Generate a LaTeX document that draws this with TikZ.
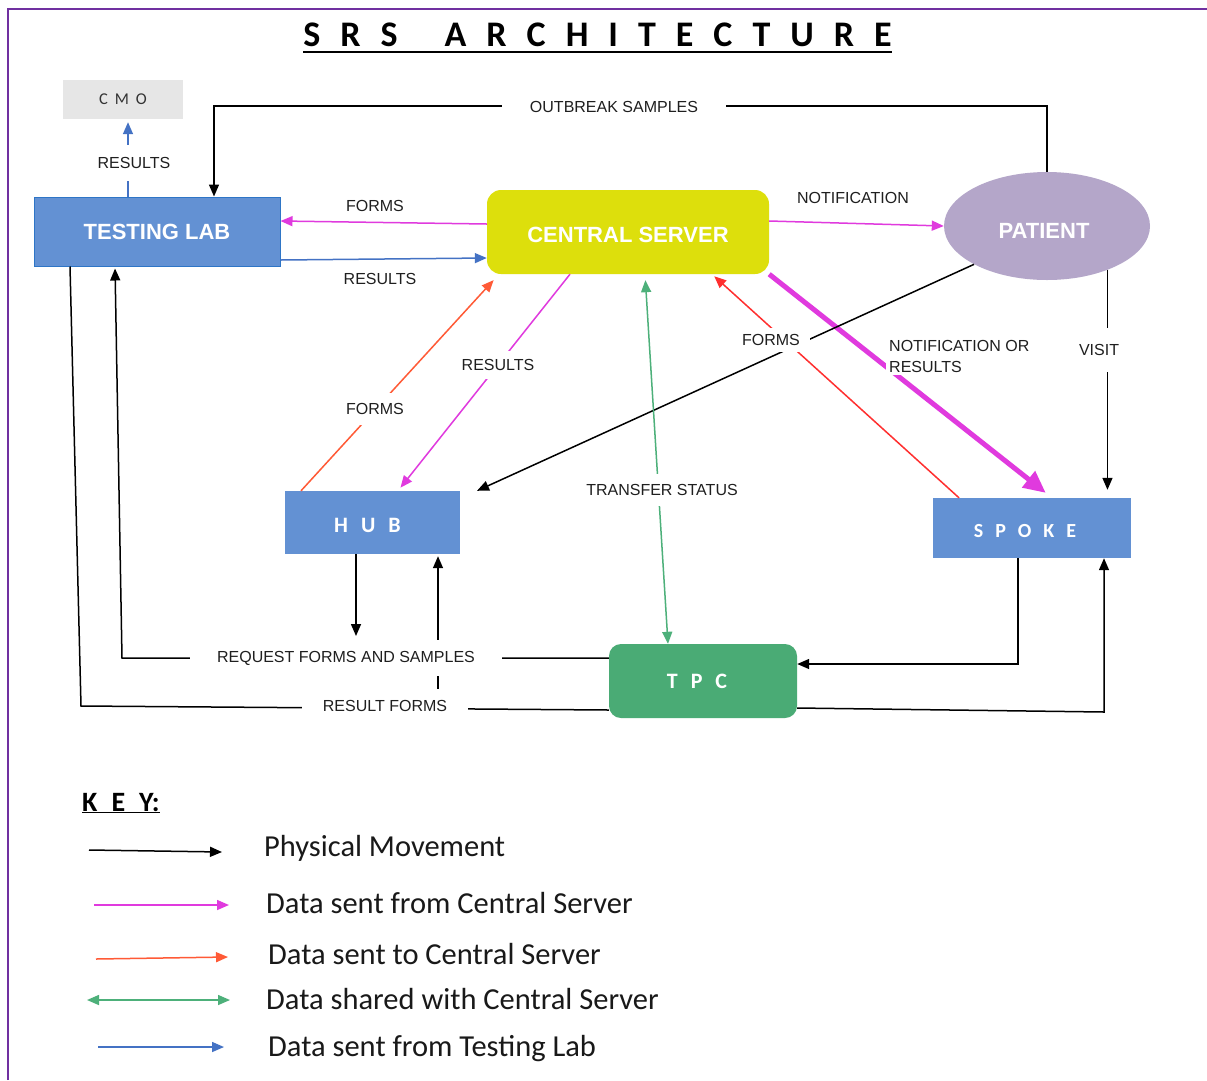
\documentclass[tikz,border=0pt]{standalone}
\usepackage{fontspec}
\setmainfont{Carlito}
\newfontfamily\lblfont{Liberation Sans}
\usetikzlibrary{arrows.meta,shapes.geometric}
\definecolor{purp}{HTML}{7030A0}
\definecolor{magc}{HTML}{E03ADE}
\definecolor{orgc}{HTML}{FF5A36}
\definecolor{redc}{HTML}{FF2F2F}
\definecolor{grnc}{HTML}{4DB07A}
\definecolor{bluc}{HTML}{4472C4}
\definecolor{boxblue}{HTML}{6391D3}
\definecolor{labborder}{HTML}{2E75C6}
\definecolor{csyellow}{HTML}{DDDF0C}
\definecolor{patpurple}{HTML}{B4A6C9}
\definecolor{tpcgreen}{HTML}{4AAB75}
\definecolor{cmogray}{HTML}{E6E6E6}
\tikzset{
  conn/.style={line width=1.5pt},
  tipA/.style={-{Triangle[length=12pt,width=10pt]}},
  blk/.style={conn, draw=black, tipA},
  plainln/.style={conn, draw=black},
  magA/.style={conn, draw=magc, tipA},
  magT/.style={line width=5pt, draw=magc, -{Triangle[length=22pt,width=20pt]}},
  orgA/.style={conn, draw=orgc, tipA},
  redA/.style={conn, draw=redc, tipA},
  bluA/.style={conn, draw=bluc, tipA},
  grnA/.style={conn, draw=grnc, {Triangle[length=12pt,width=10pt]}-{Triangle[length=12pt,width=10pt]}},
  lbl/.style={font=\lblfont\fontsize{16}{21}\selectfont, text=black!88, fill=white, inner sep=2pt},
  boxn/.style={rectangle, inner sep=0pt},
  boldlbl/.style={font=\lblfont\bfseries\fontsize{22}{24}\selectfont, text=white},
  spaced/.style={font=\bfseries\fontsize{#1}{24}\selectfont, text=white},
  keytxt/.style={font=\fontsize{30.5}{34}\selectfont, text=black!90, inner sep=0pt, anchor=base west}
}
\begin{document}
\begin{tikzpicture}[x=1pt,y=-1pt]
\useasboundingbox (0,0) rectangle (1207,1080);
\fill[white] (0,0) rectangle (1207,1080);
\draw[purp, line width=1.5pt] (8,1080) -- (8,9) -- (1207,9);

% title
\node[inner sep=0pt, anchor=base, font=\bfseries\fontsize{36}{40}\selectfont] (title) at (597.5,46)
 {S\kern20pt R\kern20pt S\kern47pt A\kern20pt R\kern20pt C\kern20pt H\kern20pt I\kern20pt T\kern20pt E\kern20pt C\kern20pt T\kern20pt U\kern20pt R\kern20pt E};
\draw[line width=2.2pt] ([yshift=-6pt]title.base west) -- ([yshift=-6pt]title.base east);

% nodes
\node[boxn, fill=cmogray, minimum width=120pt, minimum height=39pt, text=black!80, font=\fontsize{16.5}{18}\selectfont] (cmo) at (123,99.5) {C\kern7pt M\kern7pt O};
\node[boxn, fill=boxblue, draw=labborder, line width=1pt, minimum width=246pt, minimum height=69pt, boldlbl] (lab) at (157,231.5) {TESTING LAB};
\node[boxn, fill=csyellow, rounded corners=14pt, minimum width=282pt, minimum height=84pt, boldlbl] (cs) at (628,232) {\raisebox{-3pt}[\height][\depth]{CENTRAL SERVER}};
\node[ellipse, fill=patpurple, minimum width=206pt, minimum height=108pt, inner sep=0pt, boldlbl] (pat) at (1047,226) {\hspace*{-6pt}\raisebox{-5pt}[\height][\depth]{PATIENT}};
\node[boxn, fill=boxblue, minimum width=175pt, minimum height=63pt, spaced=22] (hub) at (372.5,522.5) {\hspace*{-10pt}\raisebox{-3pt}[\height][\depth]{H\kern13pt U\kern13pt B}};
\node[boxn, fill=boxblue, minimum width=198pt, minimum height=60pt, spaced=20] (spoke) at (1032,528) {\hspace*{-14pt}\raisebox{-3pt}[\height][\depth]{S\kern12pt P\kern12pt O\kern12pt K\kern12pt E}};
\node[boxn, fill=tpcgreen, rounded corners=12pt, minimum width=188pt, minimum height=74pt, spaced=22] (tpc) at (703,681) {\hspace*{-12pt}T\kern13pt P\kern13pt C};

% connectors
\coordinate (obL) at (214,106);
\draw[blk] (pat.north) |- (obL) -- (obL |- lab.north);
\draw[magA] (cs.west |- 0,224) -- (lab.east |- 0,221);
\draw[bluA] (lab.east |- 0,260) -- (cs.west |- 0,258);
\draw[magA] (cs.east |- 0,221) -- (pat.west);
\draw[magT, shorten >=8pt] (cs.south east) -- (spoke.north -| 1052,0);
\draw[redA, shorten >=3pt] (spoke.north -| 959,0) -- (cs.south -| 712,0);
\draw[blk] (pat.south west) -- (hub.north east -| 477,0);
\draw[blk, shorten >=8pt] (pat.-36) -- (pat.-36 |- spoke.north);
\draw[orgA, shorten >=8pt] (hub.north -| 301,0) -- (cs.south -| 499,0);
\draw[magA, shorten >=4pt] (cs.south -| 570,0) -- (hub.north -| 398,0);
\draw[grnA, shorten <=6pt] (cs.south -| 645,0) -- (tpc.north -| 668,0);
\coordinate (hd) at (356,636);
\draw[blk] (hub.south -| hd) -- (hd);
\coordinate (hu) at (438,707);
\draw[blk, shorten >=2pt] (hu) -- (hu |- hub.south);
\coordinate (rq) at (122,658);
\draw[blk, shorten >=2pt] (tpc.west |- rq) -- (rq) -- (lab.south -| 115,0);
\coordinate (rfL) at (81,706);
\draw[plainln] (tpc.west |- 0,710) -- (rfL) -- (lab.south -| 70,0);
\coordinate (st) at (1018,664);
\draw[blk] (spoke.south -| st) -- (st) -- (st -| tpc.east);
\coordinate (ts) at (1104,712);
\draw[blk] (tpc.east |- 0,708) -- (ts) -- (ts |- spoke.south);
\draw[bluA, shorten >=3pt] (lab.north -| 128,0) -- (cmo.south -| 128,0);

% labels
\node[lbl] (l1) at (375,206) {FORMS};
\node[lbl] (l2) at (380,279) {RESULTS};
\node[lbl] (l3) at (853,198) {NOTIFICATION};
\node[lbl, inner xsep=28pt] (l4) at (614,107) {OUTBREAK SAMPLES};
\node[lbl, align=left, anchor=west, inner sep=3pt] (l5) at (886,356) {NOTIFICATION OR\\RESULTS};
\node[lbl, inner xsep=10pt, inner ysep=6pt] (l6) at (771,340) {FORMS};
\node[lbl, inner ysep=16pt] (l7) at (1099,350) {VISIT};
\node[lbl, inner ysep=10pt] (l8) at (375,409) {FORMS};
\node[lbl, inner ysep=8pt] (l9) at (498,365) {RESULTS};
\node[lbl, inner ysep=10pt] (l10) at (662,490) {TRANSFER STATUS};
\node[lbl, inner xsep=27pt, inner ysep=11pt] (l11) at (346,658) {REQUEST FORMS AND SAMPLES};
\node[lbl, inner xsep=21pt, inner ysep=11pt] (l12) at (385,706) {RESULT FORMS};
\node[lbl, inner ysep=12pt] (l13) at (134,163) {RESULTS};

% key
\node[inner sep=0pt, anchor=base west, font=\bfseries\fontsize{28}{30}\selectfont] (key) at (82,811) {\underline{K\kern14pt E\kern14pt Y:}};
\node[keytxt] (k1) at (264,856) {Physical Movement};
\node[keytxt] (k2) at (266,913) {Data sent from Central Server};
\node[keytxt] (k3) at (268,964) {Data sent to Central Server};
\node[keytxt] (k4) at (266,1009) {Data shared with Central Server};
\node[keytxt] (k5) at (268,1056) {Data sent from Testing Lab};
\coordinate (a1) at (89,850); \coordinate (b1) at (222,852);
\coordinate (a2) at (94,905); \coordinate (b2) at (229,905);
\coordinate (a3) at (96,959); \coordinate (b3) at (228,957);
\coordinate (a4) at (87,1000); \coordinate (b4) at (230,1000);
\coordinate (a5) at (98,1047); \coordinate (b5) at (224,1047);
\draw[blk] (a1) -- (b1);
\draw[magA] (a2) -- (b2);
\draw[orgA] (a3) -- (b3);
\draw[grnA] (a4) -- (b4);
\draw[bluA] (a5) -- (b5);
\end{tikzpicture}
\end{document}
